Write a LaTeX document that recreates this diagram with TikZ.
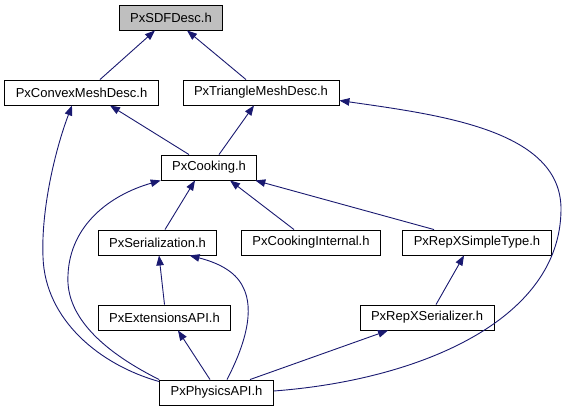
\documentclass[tikz,border=0pt]{standalone}
\usepackage{fontspec}
\setmainfont{Liberation Sans}
\usetikzlibrary{arrows.meta}
\definecolor{edgeblue}{RGB}{25,25,112}
\definecolor{rootgray}{RGB}{191,191,191}

\begin{document}
\begin{tikzpicture}[x=1pt, y=-1pt,
  hdr/.style={rectangle, draw=black, line width=0.9pt, fill=white, inner xsep=11pt, inner ysep=0pt, minimum height=25pt, font=\fontsize{13}{15}\selectfont},
  dep/.style={draw=edgeblue, line width=0.9pt, -{Triangle[length=10pt,width=7.5pt]}}]
\useasboundingbox (0,0) rectangle (573,411);

\node[hdr, fill=rootgray] (sdf) at (171, 17.5) {PxSDFDesc.h};
\node[hdr] (convexmesh) at (81.5, 92.5) {PxConvexMeshDesc.h};
\node[hdr] (trimesh) at (261, 92.5) {PxTriangleMeshDesc.h};
\node[hdr] (cooking) at (209, 167.5) {PxCooking.h};
\node[hdr] (serial) at (157.5, 242.5) {PxSerialization.h};
\node[hdr] (cookinternal) at (311, 242.5) {PxCookingInternal.h};
\node[hdr] (repxtype) at (477, 242.5) {PxRepXSimpleType.h};
\node[hdr] (extapi) at (164.5, 317.5) {PxExtensionsAPI.h};
\node[hdr] (repxser) at (427, 317.5) {PxRepXSerializer.h};
\node[hdr] (physapi) at (216.5, 392.5) {PxPhysicsAPI.h};

% straight includes
\draw[dep] ([xshift=18.5pt]convexmesh.north) -- ([xshift=-16pt]sdf.south);
\draw[dep] ([xshift=-15pt]trimesh.north) -- ([xshift=16pt]sdf.south);
\draw[dep] ([xshift=-20pt]cooking.north) -- ([xshift=28.5pt]convexmesh.south);
\draw[dep] ([xshift=10pt]cooking.north) -- ([xshift=-7pt]trimesh.south);
\draw[dep] ([xshift=7.5pt]serial.north) -- ([xshift=-14pt]cooking.south);
\draw[dep] ([xshift=-17pt]cookinternal.north) -- ([xshift=21pt]cooking.south);
\draw[dep] ([xshift=-43pt]repxtype.north) -- ([xshift=-2pt]cooking.south east);
\draw[dep] (extapi.north) -- ([xshift=1.5pt]serial.south);
\draw[dep] ([xshift=9pt]repxser.north) -- ([xshift=-13pt]repxtype.south);
\draw[dep] ([xshift=-6.5pt]physapi.north) -- ([xshift=13.5pt]extapi.south);
\draw[dep] ([xshift=33.5pt]physapi.north) -- ([xshift=-39pt]repxser.south);

% curved includes
\draw[dep] ([yshift=-2pt]physapi.north west) .. controls (100,365) and (45,320) .. (43,257)
  .. controls (41,210) and (55,150) .. ([xshift=-9.5pt]convexmesh.south);
\draw[dep] (physapi.north west) .. controls (110,355) and (65,320) .. (68,275)
  .. controls (70,225) and (110,195) .. (cooking.south west);
\draw[dep] ([xshift=10.5pt]physapi.north) .. controls (245,345) and (255,310) .. (243,287)
  .. controls (235,270) and (215,262) .. ([xshift=32pt]serial.south);
\draw[dep] ([yshift=1.5pt]physapi.east) .. controls (420,380) and (560,320) .. (561,210)
  .. controls (562,130) and (440,115) .. ([yshift=-8pt]trimesh.east);
\end{tikzpicture}
\end{document}
